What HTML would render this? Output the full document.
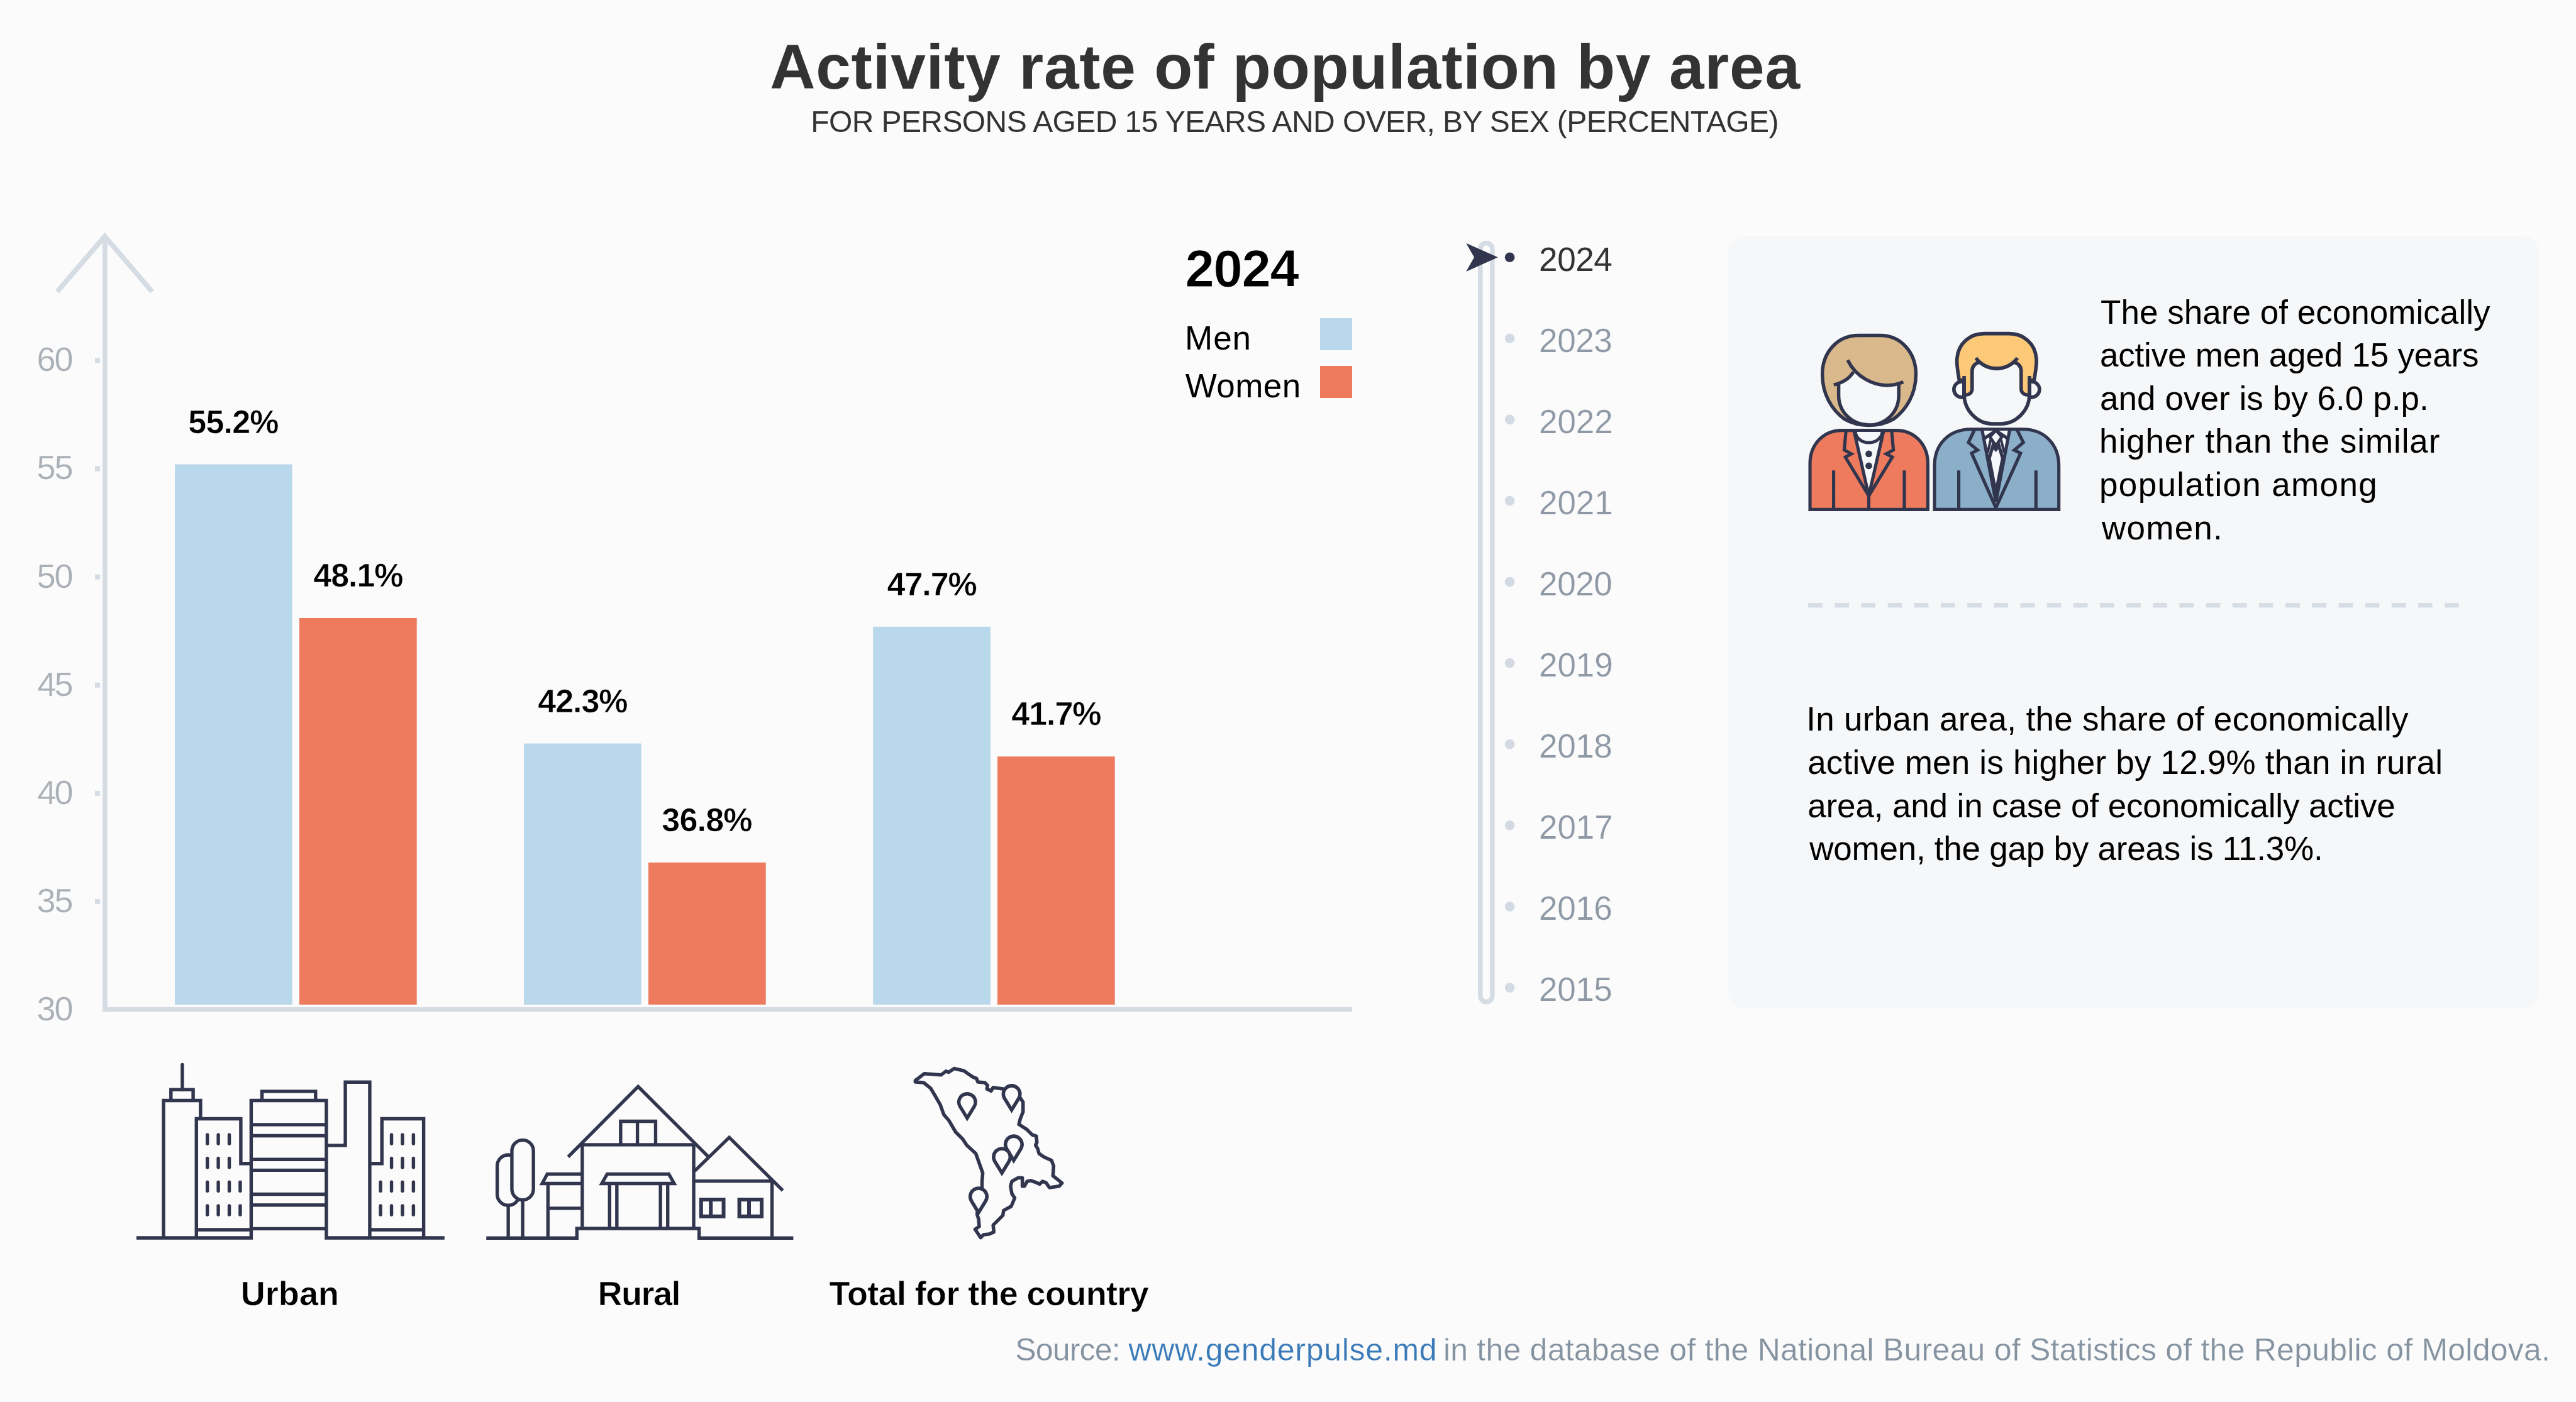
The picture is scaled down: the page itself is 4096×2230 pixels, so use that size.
<!DOCTYPE html>
<html><head><meta charset="utf-8"><title>Activity rate of population by area</title>
<style>
html,body{margin:0;padding:0;}
body{width:4096px;height:2230px;background:#fbfbfb;position:relative;overflow:hidden;font-family:"Liberation Sans",sans-serif;}
svg{position:absolute;left:0;top:0;}
.t{position:absolute;white-space:nowrap;will-change:opacity;}
</style></head><body>
<svg width="4096" height="2230" viewBox="0 0 4096 2230">
<rect x="2747.5" y="375" width="1290" height="1229.5" rx="28" fill="#f6f7f9"/>
<rect x="2875.1" y="959" width="22.7" height="7.4" fill="#d7dde5"/>
<rect x="2917.3" y="959" width="22.7" height="7.4" fill="#d7dde5"/>
<rect x="2959.4" y="959" width="22.7" height="7.4" fill="#d7dde5"/>
<rect x="3001.6" y="959" width="22.7" height="7.4" fill="#d7dde5"/>
<rect x="3043.8" y="959" width="22.7" height="7.4" fill="#d7dde5"/>
<rect x="3085.9" y="959" width="22.7" height="7.4" fill="#d7dde5"/>
<rect x="3128.1" y="959" width="22.7" height="7.4" fill="#d7dde5"/>
<rect x="3170.3" y="959" width="22.7" height="7.4" fill="#d7dde5"/>
<rect x="3212.5" y="959" width="22.7" height="7.4" fill="#d7dde5"/>
<rect x="3254.6" y="959" width="22.7" height="7.4" fill="#d7dde5"/>
<rect x="3296.8" y="959" width="22.7" height="7.4" fill="#d7dde5"/>
<rect x="3339.0" y="959" width="22.7" height="7.4" fill="#d7dde5"/>
<rect x="3381.1" y="959" width="22.7" height="7.4" fill="#d7dde5"/>
<rect x="3423.3" y="959" width="22.7" height="7.4" fill="#d7dde5"/>
<rect x="3465.5" y="959" width="22.7" height="7.4" fill="#d7dde5"/>
<rect x="3507.7" y="959" width="22.7" height="7.4" fill="#d7dde5"/>
<rect x="3549.8" y="959" width="22.7" height="7.4" fill="#d7dde5"/>
<rect x="3592.0" y="959" width="22.7" height="7.4" fill="#d7dde5"/>
<rect x="3634.2" y="959" width="22.7" height="7.4" fill="#d7dde5"/>
<rect x="3676.3" y="959" width="22.7" height="7.4" fill="#d7dde5"/>
<rect x="3718.5" y="959" width="22.7" height="7.4" fill="#d7dde5"/>
<rect x="3760.7" y="959" width="22.7" height="7.4" fill="#d7dde5"/>
<rect x="3802.8" y="959" width="22.7" height="7.4" fill="#d7dde5"/>
<rect x="3845.0" y="959" width="22.7" height="7.4" fill="#d7dde5"/>
<rect x="3887.2" y="959" width="22.7" height="7.4" fill="#d7dde5"/>
<rect x="163" y="376" width="7.7" height="1233.4" fill="#d5dce4"/>
<rect x="163" y="1602" width="1987" height="7.4" fill="#d5dce4"/>
<path d="M90.9,464 L166.6,376 L241.9,464" fill="none" stroke="#d5dce4" stroke-width="8" stroke-linejoin="miter"/>
<rect x="151" y="569.5" width="8" height="8" fill="#d5dce4"/>
<rect x="151" y="741.6" width="8" height="8" fill="#d5dce4"/>
<rect x="151" y="913.7" width="8" height="8" fill="#d5dce4"/>
<rect x="151" y="1085.8" width="8" height="8" fill="#d5dce4"/>
<rect x="151" y="1257.9" width="8" height="8" fill="#d5dce4"/>
<rect x="151" y="1430.0" width="8" height="8" fill="#d5dce4"/>
<rect x="278" y="738.6" width="186.7" height="859.3" fill="#b9d8ec"/>
<rect x="476" y="983.0" width="186.7" height="614.9" fill="#ee7b5e"/>
<rect x="833" y="1182.6" width="186.7" height="415.3" fill="#b9d8ec"/>
<rect x="1031" y="1371.9" width="186.7" height="226.0" fill="#ee7b5e"/>
<rect x="1388.2" y="996.8" width="186.7" height="601.1" fill="#b9d8ec"/>
<rect x="1586" y="1203.3" width="186.7" height="394.6" fill="#ee7b5e"/>
<rect x="2099" y="506" width="51" height="51" fill="#b9d8ec"/>
<rect x="2099" y="582" width="51" height="51" fill="#ee7b5e"/>
<rect x="2353.8" y="386.5" width="19" height="1207" rx="9.5" fill="none" stroke="#d5dce4" stroke-width="7.6"/>
<circle cx="2400.6" cy="409.2" r="7.8" fill="#31364e"/>
<circle cx="2400.6" cy="538.3" r="7.8" fill="#d3dae3"/>
<circle cx="2400.6" cy="667.4" r="7.8" fill="#d3dae3"/>
<circle cx="2400.6" cy="796.5" r="7.8" fill="#d3dae3"/>
<circle cx="2400.6" cy="925.6" r="7.8" fill="#d3dae3"/>
<circle cx="2400.6" cy="1054.7" r="7.8" fill="#d3dae3"/>
<circle cx="2400.6" cy="1183.7" r="7.8" fill="#d3dae3"/>
<circle cx="2400.6" cy="1312.8" r="7.8" fill="#d3dae3"/>
<circle cx="2400.6" cy="1441.9" r="7.8" fill="#d3dae3"/>
<circle cx="2400.6" cy="1571.0" r="7.8" fill="#d3dae3"/>
<path d="M2331.2,386.8 L2381.8,409.2 L2331.2,431.9 L2344,409.2 Z" fill="#31364e"/>
<g transform="translate(200,1670) scale(0.235399)" fill="none" stroke="#31364e" stroke-width="23" ><path d="M72,1270 H847 V342 H1355 V1270 H2153"/><path d="M920,342 V280 H1282 V342"/><path d="M847,505 H1355"/><path d="M847,580 H1355"/><path d="M847,740 H1355"/><path d="M847,813 H1355"/><path d="M847,975 H1355"/><path d="M847,1048 H1355"/><path d="M847,1208 H1355"/><path d="M255,1270 V342 H505 V465"/><path d="M305,342 V268 H455 V342"/><path d="M382,268 V100" stroke-linecap="round"/><path d="M477,1270 V465 H777 V768 H847"/><path d="M477,1215 H847"/><path d="M1355,645 H1483 V218 H1648 V1270"/><path d="M1648,768 H1730 V465 H2012 V1270"/><path d="M1648,1215 H2012"/><path d="M551,573 V633 M551,733 V793 M625,573 V633 M625,733 V793 M699,573 V633 M699,733 V793 M551,893 V953 M551,1053 V1113 M625,893 V953 M625,1053 V1113 M699,893 V953 M699,1053 V1113 M773,893 V953 M773,1053 V1113 M1795,573 V633 M1795,733 V793 M1869,573 V633 M1869,733 V793 M1943,573 V633 M1943,733 V793 M1721,893 V953 M1721,1053 V1113 M1795,893 V953 M1795,1053 V1113 M1869,893 V953 M1869,1053 V1113 M1943,893 V953 M1943,1053 V1113" stroke-linecap="round"/></g>
<g transform="translate(760,1700) scale(0.213991)" fill="none" stroke="#31364e" stroke-width="25" ><path d="M62,1258 H735 V1187 H1643 V1258 H2343"/><rect x="143" y="640" width="164" height="375" rx="82"/><rect x="252" y="530" width="160" height="445" rx="80" fill="#fbfbfb"/><path d="M225,1015 V1258 M332,975 V1258"/><path d="M775,782 H515 L477,853 H775 M520,853 V1258 M520,1037 H775"/><path d="M775,565 V1187 M1603,565 V1187 M775,565 H1603"/><path d="M670,655 L1190,132 L1708,650"/><path d="M1060,565 V390 H1320 V565 M1185,390 V565"/><path d="M960,782 H1418 L1458,853 H920 Z"/><path d="M978,853 V1187 M1032,853 V1187 M1356,853 V1187 M1410,853 V1187"/><path d="M1610,760 L1867,510 L2265,905"/><path d="M1603,835 H2185 V1258"/><g stroke-width="28"><rect x="1658" y="972" width="167" height="125"/><path d="M1730,972 V1097"/><rect x="1942" y="972" width="166" height="125"/><path d="M2014,972 V1097"/></g></g>
<g transform="translate(1420,1680) scale(0.221078)" fill="none" stroke="#31364e" stroke-width="25" ><path d="M160,175 L225,125 L345,135 L380,108 L400,115 L440,88 L510,105 L545,130 L575,150 L600,160 L610,185 L660,190 L680,210 L675,235 L705,250 L720,225 L790,235 L853,270 L915,300 L935,330 L935,400 L915,450 L905,490 L960,525 L1000,565 L1030,575 L1035,620 L1025,640 L1040,665 L1050,700 L1085,725 L1140,750 L1155,790 L1150,860 L1215,912 L1195,935 L1125,945 L1100,910 L1075,900 L1055,920 L1020,905 L990,895 L965,900 L945,935 L930,935 L930,875 L900,875 L855,900 L845,935 L855,990 L875,1020 L850,1080 L795,1110 L790,1145 L720,1215 L725,1265 L690,1280 L650,1285 L630,1305 L590,1245 L620,1225 L615,1170 L605,1140 L615,1000 L640,945 L640,900 L645,840 L620,770 L595,700 L530,640 L500,595 L450,545 L400,460 L365,420 L340,350 L300,280 L270,230 L220,190 L160,185 Z" stroke-linejoin="round"/><path d="M533,445 L481.8,361.3 A60,60 0 1 1 584.2,361.3 Z" fill="#fbfbfb" stroke-linejoin="miter"/><path d="M853,387 L801.8,303.3 A60,60 0 1 1 904.2,303.3 Z" fill="#fbfbfb" stroke-linejoin="miter"/><path d="M868,750 L816.8,666.3 A60,60 0 1 1 919.2,666.3 Z" fill="#fbfbfb" stroke-linejoin="miter"/><path d="M783,840 L731.8,756.3 A60,60 0 1 1 834.2,756.3 Z" fill="#fbfbfb" stroke-linejoin="miter"/><path d="M615,1125 L563.8,1041.3 A60,60 0 1 1 666.2,1041.3 Z" fill="#fbfbfb" stroke-linejoin="miter"/></g>
<g transform="translate(2870,520) scale(0.121247)" fill="none" stroke="#31364e" stroke-width="45" ><path d="M700,112 H990 C1260,112 1455,340 1455,620 C1455,880 1330,1090 1160,1210 C1060,1270 950,1290 840,1290 C730,1290 620,1270 520,1210 C350,1090 228,880 228,620 C228,340 420,112 700,112 Z" fill="#d9b98c"/><path d="M442,750 Q560,700 635,585 Q700,650 800,690 Q1040,825 1230,745 V900 C1230,1120 1060,1287 840,1287 C620,1287 442,1120 442,900 Z" fill="#f6f7f9" stroke="none"/><path d="M442,755 V900 C442,1120 620,1287 840,1287 C1060,1287 1230,1120 1230,900 V740"/><path d="M560,435 Q640,600 800,690 Q1040,825 1290,722"/><path d="M635,590 Q560,715 378,760"/></g>
<g transform="translate(2860,670) scale(0.114108)" fill="none" stroke="#31364e" stroke-width="45" ><path d="M158,1230 V590 C158,330 340,128 600,128 H1360 C1620,128 1800,330 1800,590 V1230 Z" fill="#ee7b5e"/><path d="M770,150 L977,1040 L1185,150 Z" fill="#f6f7f9" stroke="none"/><path d="M770,128 L977,1040 L1185,128"/><path d="M790,150 A188,160 0 0 0 1165,150"/><path d="M660,128 L635,400 L735,455 L650,500 L977,1040 M1295,128 L1320,400 L1220,455 L1305,500 L977,1040"/><path d="M977,1040 V1230 M487,685 V1230 M1472,685 V1230"/><circle cx="977" cy="455" r="47" fill="#31364e" stroke="none"/><circle cx="977" cy="622" r="47" fill="#31364e" stroke="none"/></g>
<g transform="translate(3080,515) scale(0.124788)" fill="none" stroke="#31364e" stroke-width="45" ><circle cx="315" cy="837" r="100" fill="#f6f7f9"/><circle cx="1205" cy="837" r="100" fill="#f6f7f9"/><path d="M345,665 V900 C345,1110 520,1275 700,1275 H820 C1000,1275 1178,1110 1178,900 V665 Z" fill="#f6f7f9" stroke="none"/><path d="M345,665 V900 C345,1110 520,1275 700,1275 H820 C1000,1275 1178,1110 1178,900 V665"/><path d="M345,720 L283,720 C255,560 250,480 255,440 C270,250 420,125 600,125 H920 C1100,125 1250,250 1265,440 C1270,480 1265,560 1237,720 L1178,720 V905 H1150 C1100,905 1072,870 1072,830 V600 C1072,540 1030,505 980,487 A328,328 0 0 1 540,487 C490,505 447,540 447,600 V830 C447,870 420,905 370,905 H345 Z" fill="#fbc978"/><path d="M495,435 A328,328 0 0 0 1025,435"/><path d="M345,665 V960 M1178,665 V960"/></g>
<g transform="translate(3060,670) scale(0.114144)" fill="none" stroke="#31364e" stroke-width="45" ><path d="M140,1230 V620 C140,320 340,112 650,112 H1370 C1670,112 1872,320 1872,620 V1230 Z" fill="#8bafc9"/><path d="M801,131 L995,1122 L1189,131 Z" fill="#f6f7f9" stroke="none"/><path d="M801,112 L995,1122 L1189,112"/><path d="M995,131 L832,241 M995,131 L1160,241"/><path d="M995,128 L1078,218 L995,340 L912,218 Z" fill="#f6f7f9" stroke-width="40"/><path d="M954,341 L902,516 L995,997 L1090,516 L1037,341 L995,395 Z" fill="#f6f7f9"/><path d="M925,250 L880,440 M1065,250 L1111,440" stroke-width="36"/><path d="M700,112 L613,297 L740,402 L657,446 L995,1207 M1287,112 L1378,297 L1251,402 L1339,446 L995,1207"/><path d="M478,685 V1230 M1553,685 V1230"/></g>
</svg>
<div class="t" style="left:1224.20px;top:45.60px;font-size:100px;line-height:120px;color:#333333;letter-spacing:0.776px;font-weight:bold;">Activity rate of population by area</div>
<div class="t" style="left:1289.20px;top:164.80px;font-size:48px;line-height:58px;color:#333333;letter-spacing:-0.589px;">FOR PERSONS AGED 15 YEARS AND OVER, BY SEX (PERCENTAGE)</div>
<div class="t" style="left:58.50px;top:539.30px;font-size:54px;line-height:65px;color:#aab0b6;letter-spacing:-2.046px;-webkit-text-stroke:0.25px #fbfbfb;">60</div>
<div class="t" style="left:58.50px;top:711.40px;font-size:54px;line-height:65px;color:#aab0b6;letter-spacing:-2.046px;-webkit-text-stroke:0.25px #fbfbfb;">55</div>
<div class="t" style="left:58.50px;top:883.50px;font-size:54px;line-height:65px;color:#aab0b6;letter-spacing:-2.046px;-webkit-text-stroke:0.25px #fbfbfb;">50</div>
<div class="t" style="left:59.50px;top:1055.60px;font-size:54px;line-height:65px;color:#aab0b6;letter-spacing:-3.046px;-webkit-text-stroke:0.25px #fbfbfb;">45</div>
<div class="t" style="left:59.50px;top:1227.70px;font-size:54px;line-height:65px;color:#aab0b6;letter-spacing:-3.046px;-webkit-text-stroke:0.25px #fbfbfb;">40</div>
<div class="t" style="left:58.50px;top:1399.80px;font-size:54px;line-height:65px;color:#aab0b6;letter-spacing:-2.046px;-webkit-text-stroke:0.25px #fbfbfb;">35</div>
<div class="t" style="left:58.50px;top:1571.90px;font-size:54px;line-height:65px;color:#aab0b6;letter-spacing:-2.046px;-webkit-text-stroke:0.25px #fbfbfb;">30</div>
<div class="t" style="left:299.35px;top:639.62px;font-size:52px;line-height:62px;color:#000000;letter-spacing:-0.804px;font-weight:bold;-webkit-text-stroke:0.6px #fbfbfb;">55.2%</div>
<div class="t" style="left:498.35px;top:884.00px;font-size:52px;line-height:62px;color:#000000;letter-spacing:-1.054px;font-weight:bold;-webkit-text-stroke:0.6px #fbfbfb;">48.1%</div>
<div class="t" style="left:855.35px;top:1083.63px;font-size:52px;line-height:62px;color:#000000;letter-spacing:-1.054px;font-weight:bold;-webkit-text-stroke:0.6px #fbfbfb;">42.3%</div>
<div class="t" style="left:1052.35px;top:1272.94px;font-size:52px;line-height:62px;color:#000000;letter-spacing:-0.804px;font-weight:bold;-webkit-text-stroke:0.6px #fbfbfb;">36.8%</div>
<div class="t" style="left:1410.55px;top:897.77px;font-size:52px;line-height:62px;color:#000000;letter-spacing:-1.054px;font-weight:bold;-webkit-text-stroke:0.6px #fbfbfb;">47.7%</div>
<div class="t" style="left:1608.35px;top:1104.29px;font-size:52px;line-height:62px;color:#000000;letter-spacing:-1.054px;font-weight:bold;-webkit-text-stroke:0.6px #fbfbfb;">41.7%</div>
<div class="t" style="left:1884.40px;top:377.60px;font-size:83px;line-height:100px;color:#000000;letter-spacing:-1.099px;font-weight:bold;-webkit-text-stroke:0.9px #fbfbfb;">2024</div>
<div class="t" style="left:1884.00px;top:506.20px;font-size:53px;line-height:64px;color:#000000;letter-spacing:0.983px;">Men</div>
<div class="t" style="left:1884.80px;top:582.40px;font-size:53px;line-height:64px;color:#000000;letter-spacing:0.455px;">Women</div>
<div class="t" style="left:2447.10px;top:380.60px;font-size:53px;line-height:64px;color:#333333;letter-spacing:-0.443px;">2024</div>
<div class="t" style="left:2447.10px;top:509.69px;font-size:53px;line-height:64px;color:#8e99a5;letter-spacing:-0.443px;-webkit-text-stroke:0.25px #fbfbfb;">2023</div>
<div class="t" style="left:2447.10px;top:638.78px;font-size:53px;line-height:64px;color:#8e99a5;letter-spacing:-0.110px;-webkit-text-stroke:0.25px #fbfbfb;">2022</div>
<div class="t" style="left:2447.10px;top:767.87px;font-size:53px;line-height:64px;color:#8e99a5;letter-spacing:-0.110px;-webkit-text-stroke:0.25px #fbfbfb;">2021</div>
<div class="t" style="left:2447.10px;top:896.96px;font-size:53px;line-height:64px;color:#8e99a5;letter-spacing:-0.443px;-webkit-text-stroke:0.25px #fbfbfb;">2020</div>
<div class="t" style="left:2447.10px;top:1026.05px;font-size:53px;line-height:64px;color:#8e99a5;letter-spacing:-0.110px;-webkit-text-stroke:0.25px #fbfbfb;">2019</div>
<div class="t" style="left:2447.10px;top:1155.14px;font-size:53px;line-height:64px;color:#8e99a5;letter-spacing:-0.443px;-webkit-text-stroke:0.25px #fbfbfb;">2018</div>
<div class="t" style="left:2447.10px;top:1284.23px;font-size:53px;line-height:64px;color:#8e99a5;letter-spacing:-0.110px;-webkit-text-stroke:0.25px #fbfbfb;">2017</div>
<div class="t" style="left:2447.10px;top:1413.32px;font-size:53px;line-height:64px;color:#8e99a5;letter-spacing:-0.443px;-webkit-text-stroke:0.25px #fbfbfb;">2016</div>
<div class="t" style="left:2447.10px;top:1542.41px;font-size:53px;line-height:64px;color:#8e99a5;letter-spacing:-0.443px;-webkit-text-stroke:0.25px #fbfbfb;">2015</div>
<div class="t" style="left:3340.00px;top:464.50px;font-size:53px;line-height:64px;color:#000000;letter-spacing:0.036px;">The share of economically</div>
<div class="t" style="left:3339.00px;top:533.10px;font-size:53px;line-height:64px;color:#000000;letter-spacing:-0.197px;">active men aged 15 years</div>
<div class="t" style="left:3339.00px;top:601.70px;font-size:53px;line-height:64px;color:#000000;letter-spacing:0.056px;">and over is by 6.0 p.p.</div>
<div class="t" style="left:3338.00px;top:670.30px;font-size:53px;line-height:64px;color:#000000;letter-spacing:0.905px;">higher than the similar</div>
<div class="t" style="left:3338.00px;top:738.90px;font-size:53px;line-height:64px;color:#000000;letter-spacing:1.359px;">population among</div>
<div class="t" style="left:3342.00px;top:807.50px;font-size:53px;line-height:64px;color:#000000;letter-spacing:1.249px;">women.</div>
<div class="t" style="left:2872.20px;top:1112.30px;font-size:53px;line-height:64px;color:#000000;letter-spacing:0.297px;">In urban area, the share of economically</div>
<div class="t" style="left:2874.20px;top:1180.90px;font-size:53px;line-height:64px;color:#000000;letter-spacing:0.193px;">active men is higher by 12.9% than in rural</div>
<div class="t" style="left:2874.20px;top:1249.50px;font-size:53px;line-height:64px;color:#000000;letter-spacing:-0.134px;">area, and in case of economically active</div>
<div class="t" style="left:2877.20px;top:1318.10px;font-size:53px;line-height:64px;color:#000000;letter-spacing:-0.232px;">women, the gap by areas is 11.3%.</div>
<div class="t" style="left:382.70px;top:2024.80px;font-size:54px;line-height:65px;color:#000000;letter-spacing:0.067px;font-weight:bold;-webkit-text-stroke:0.6px #fbfbfb;">Urban</div>
<div class="t" style="left:950.40px;top:2024.80px;font-size:54px;line-height:65px;color:#000000;letter-spacing:-1.486px;font-weight:bold;-webkit-text-stroke:0.6px #fbfbfb;">Rural</div>
<div class="t" style="left:1318.60px;top:2024.80px;font-size:54px;line-height:65px;color:#000000;letter-spacing:-0.643px;font-weight:bold;-webkit-text-stroke:0.6px #fbfbfb;">Total for the country</div>
<div class="t" style="left:1614.30px;top:2116.80px;font-size:50px;line-height:60px;color:#8593a1;letter-spacing:-0.823px;-webkit-text-stroke:0.25px #fbfbfb;">Source:</div>
<div class="t" style="left:1794.40px;top:2116.80px;font-size:50px;line-height:60px;color:#3a7ab8;letter-spacing:0.716px;-webkit-text-stroke:0.25px #fbfbfb;">www.genderpulse.md</div>
<div class="t" style="left:2294.90px;top:2116.80px;font-size:50px;line-height:60px;color:#8593a1;letter-spacing:0.218px;-webkit-text-stroke:0.25px #fbfbfb;">in the database of the National Bureau of Statistics of the Republic of Moldova.</div>
</body></html>
